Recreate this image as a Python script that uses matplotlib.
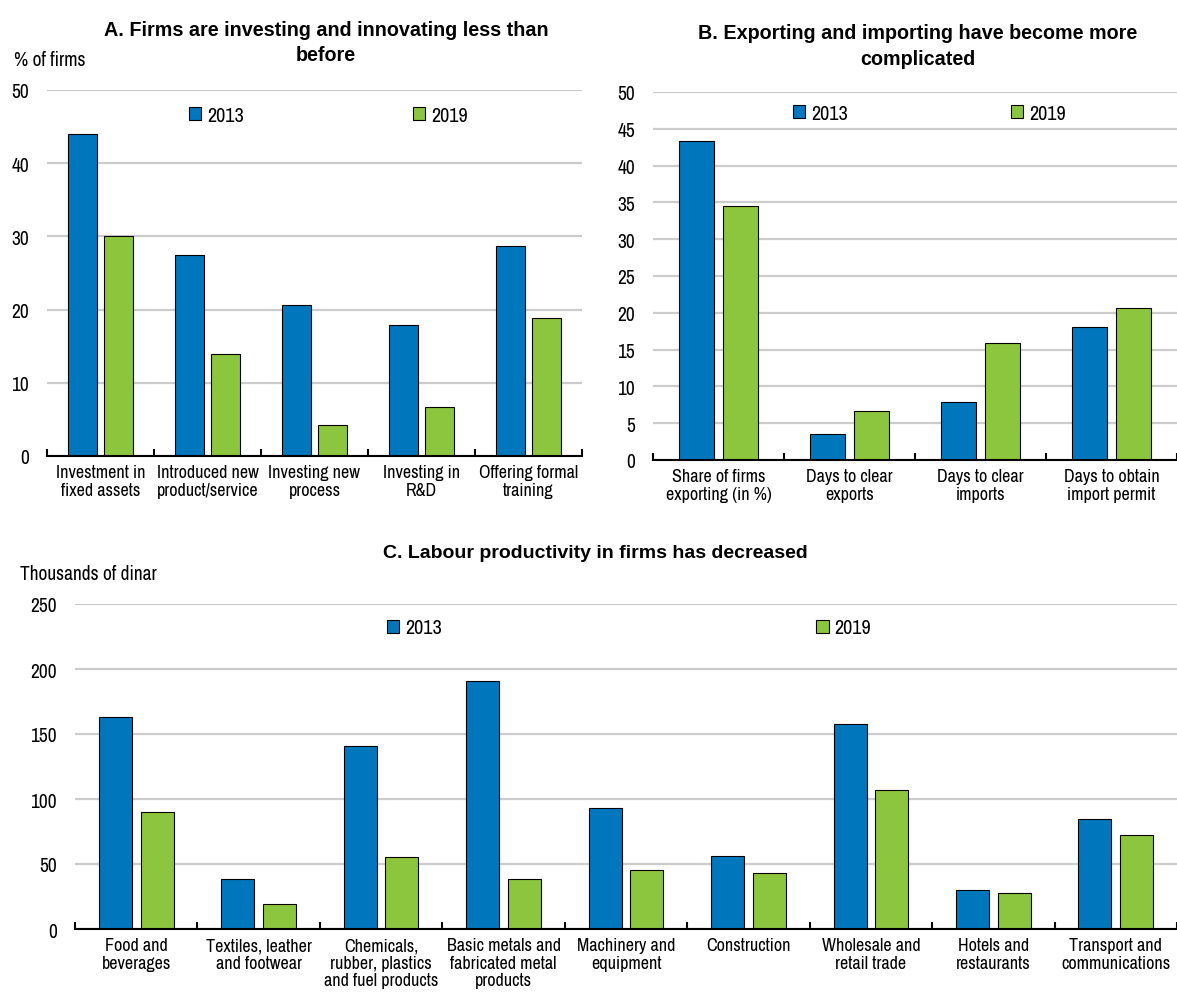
import matplotlib.pyplot as plt
import numpy as np

plt.rcParams['font.family'] = ['Arial Narrow', 'Liberation Sans Narrow', 'Archivo Narrow', 'PT Sans Narrow',
                               'Roboto Condensed', 'Liberation Sans', 'DejaVu Sans']
TITLE_FONT = ['Liberation Sans', 'DejaVu Sans']

BLUE = '#0077BD'
GREEN = '#8CC63F'
GRID = '#CCCCCC'

# panel A
a_labels = ['Investment in\nfixed assets', 'Introduced new\nproduct/service', 'Investing new\nprocess',
            'Investing in\nR&D', 'Offering formal\ntraining']
a_2013 = [44.0, 27.4, 20.6, 17.9, 28.7]
a_2019 = [30.0, 13.9, 4.2, 6.7, 18.9]

# panel B
b_labels = ['Share of firms\nexporting (in %)', 'Days to clear\nexports', 'Days to clear\nimports',
            'Days to obtain\nimport permit']
b_2013 = [43.3, 3.5, 7.9, 18.1]
b_2019 = [34.5, 6.7, 15.9, 20.6]

# panel C
c_labels = ['Food and\nbeverages', 'Textiles, leather\nand footwear', 'Chemicals,\nrubber, plastics\nand fuel products',
            'Basic metals and\nfabricated metal\nproducts', 'Machinery and\nequipment', 'Construction',
            'Wholesale and\nretail trade', 'Hotels and\nrestaurants', 'Transport and\ncommunications']
c_2013 = [162.9, 38.8, 141.1, 190.4, 93.3, 56.0, 157.8, 29.8, 84.5]
c_2019 = [89.7, 19.0, 55.5, 38.8, 45.2, 42.7, 106.9, 27.5, 72.5]


def grouped_bars(ax, labels, v13, v19, ymax, step, leg_anchor, colspace, xfs=13):
    x = np.arange(len(labels))
    ax.bar(x - 0.17, v13, 0.27, color=BLUE, edgecolor='black', linewidth=0.8, label='2013', zorder=3)
    ax.bar(x + 0.17, v19, 0.27, color=GREEN, edgecolor='black', linewidth=0.8, label='2019', zorder=3)
    ax.set_xlim(-0.5, len(labels) - 0.5)
    ax.set_ylim(0, ymax)
    ax.set_yticks(np.arange(0, ymax + step / 2, step))
    ax.yaxis.grid(True, color=GRID, linewidth=1.6)
    ax.set_axisbelow(True)
    for s in ['left', 'right', 'top']:
        ax.spines[s].set_visible(False)
    ax.spines['bottom'].set_linewidth(1.5)
    ax.spines['bottom'].set_zorder(4)
    ax.tick_params(axis='y', length=0, pad=13, labelsize=14)
    ax.set_xticks(x)
    ax.set_xticklabels(labels, fontsize=xfs, linespacing=1.1)
    ax.tick_params(axis='x', which='major', length=0, pad=6)
    ax.set_xticks(np.arange(-0.5, len(labels)), minor=True)
    ax.tick_params(axis='x', which='minor', direction='in', length=5, width=1.5)
    ax.legend(ncol=2, loc='center left', bbox_to_anchor=leg_anchor, bbox_transform=ax.figure.transFigure,
              frameon=False, fontsize=14.5, handlelength=0.6, handleheight=0.6, handletextpad=0.3,
              columnspacing=colspace, borderpad=0, borderaxespad=0)


fig = plt.figure(figsize=(11.77, 9.95), dpi=100)
W, H = 1177.0, 995.0

ax_a = fig.add_axes([47 / W, 1 - 457 / H, 535 / W, 366 / H])
grouped_bars(ax_a, a_labels, a_2013, a_2019, 50, 10, (189 / W, 1 - 116 / H), 8.4)

ax_b = fig.add_axes([653 / W, 1 - 461 / H, 524 / W, 368 / H])
grouped_bars(ax_b, b_labels, b_2013, b_2019, 50, 5, (793 / W, 1 - 114 / H), 8.1)

ax_c = fig.add_axes([75 / W, 1 - 930 / H, 1102 / W, 325 / H])
grouped_bars(ax_c, c_labels, c_2013, c_2019, 250, 50, (387 / W, 1 - 629 / H), 18.6)

fig.text(326 / W, 1 - 43 / H, 'A. Firms are investing and innovating less than\nbefore', ha='center', va='center',
         fontsize=14.2, fontweight='bold', linespacing=1.45, family=TITLE_FONT)
fig.text(918 / W, 1 - 46.5 / H, 'B. Exporting and importing have become more\ncomplicated', ha='center',
         va='center', fontsize=14.2, fontweight='bold', linespacing=1.45, family=TITLE_FONT)
fig.text(595 / W, 1 - 554 / H, 'C. Labour productivity in firms has decreased', ha='center', va='center',
         fontsize=14, fontweight='bold', family=TITLE_FONT)
fig.text(14 / W, 1 - 60 / H, '% of firms', ha='left', va='center', fontsize=14)
fig.text(20 / W, 1 - 575 / H, 'Thousands of dinar', ha='left', va='center', fontsize=14)

fig.savefig('out.png', dpi=100)
